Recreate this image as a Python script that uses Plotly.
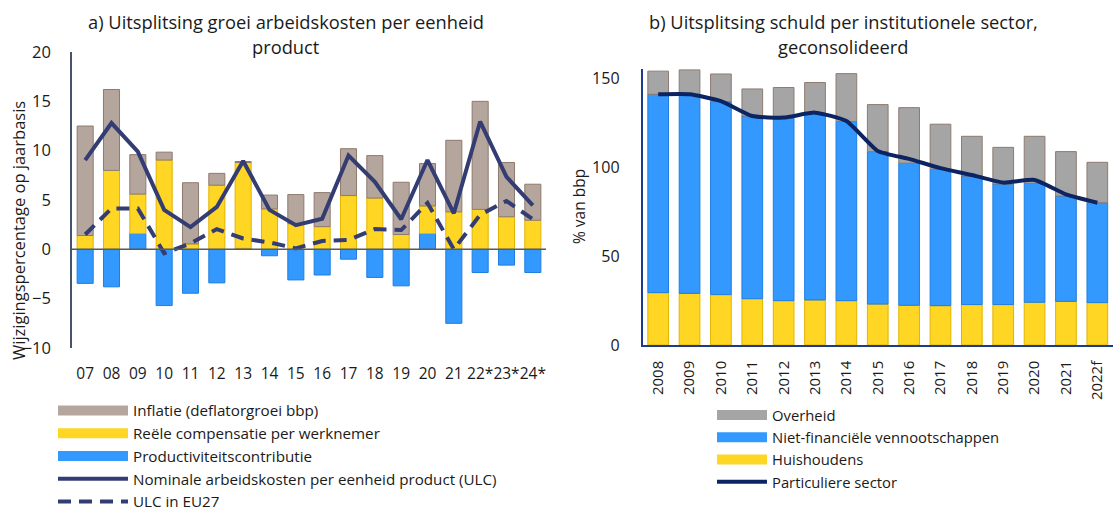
import plotly.graph_objects as go

# ---------- data: chart a ----------
cats_a = ['07', '08', '09', '10', '11', '12', '13', '14', '15', '16', '17', '18',
          '19', '20', '21', '22*', '23*', '24*']
inflatie = [11.1, 8.2, 4.0, 0.8, 6.2, 1.2, 0.1, 1.4, 2.95, 3.45, 4.75, 4.3, 5.3, 4.3, 7.25, 10.95, 5.5, 3.65]
reele = [1.4, 8.0, 4.0, 9.05, 0.55, 6.5, 8.7, 4.1, 2.6, 2.3, 5.45, 5.2, 1.5, 2.8, 3.8, 4.05, 3.3, 2.95]
productiviteit = [-3.45, -3.8, 1.6, -5.7, -4.45, -3.4, 0.1, -0.65, -3.1, -2.6, -1.0, -2.85, -3.7, 1.6,
                  -7.5, -2.35, -1.6, -2.35]
ulc = [9.05, 12.8, 9.9, 4.0, 2.25, 4.3, 8.95, 4.0, 2.45, 3.1, 9.5, 6.85, 3.05, 9.05, 3.65, 12.95, 7.35, 4.45]
ulc_eu27 = [1.5, 4.15, 4.15, -0.4, 0.6, 2.05, 1.1, 0.7, 0.1, 0.85, 0.95, 2.05, 1.95, 4.7, 0.0, 3.5, 4.9, 3.05]

# ---------- data: chart b ----------
cats_b = ['2008', '2009', '2010', '2011', '2012', '2013', '2014', '2015', '2016', '2017', '2018',
          '2019', '2020', '2021', '2022f']
huishoudens = [29.4, 29.0, 28.3, 26.0, 24.9, 25.3, 24.9, 23.0, 22.3, 22.1, 22.7, 22.7, 24.0, 24.5, 23.8]
nfc = [111.4, 111.8, 108.4, 102.6, 102.8, 105.2, 100.6, 85.6, 79.8, 76.6, 72.2, 67.7, 66.8, 59.2, 56.1]
overheid = [13.0, 13.7, 15.5, 15.2, 16.9, 16.9, 26.9, 26.4, 31.2, 25.3, 22.3, 20.6, 26.4, 24.9, 22.7]
particulier = [140.8, 140.8, 137.0, 128.6, 127.7, 130.5, 125.8, 109.0, 104.5, 99.3, 95.5, 91.2, 92.7, 84.6, 79.9]

W, H = 1113, 513
FONT = 'Open Sans'
GRAY_A, GRAY_A_LINE = '#B5A69D', '#8F7A6E'
YELLOW, YELLOW_LINE = '#FFD624', '#E2B400'
BLUE, BLUE_LINE = '#3399FF', '#1E7EE0'
NAVY_A = '#333D73'
GRAY_B, GRAY_B_LINE = '#A5A5A5', '#8F7A6E'
NAVY_B = '#0C2461'

fig = go.Figure()

# chart a bars (stack order: blue, yellow, gray)
fig.add_trace(go.Bar(x=cats_a, y=productiviteit, marker=dict(color=BLUE, line=dict(color=BLUE_LINE, width=1)),
                     width=0.61, showlegend=False, xaxis='x', yaxis='y'))
fig.add_trace(go.Bar(x=cats_a, y=reele, marker=dict(color=YELLOW, line=dict(color=YELLOW_LINE, width=1)),
                     width=0.61, showlegend=False, xaxis='x', yaxis='y'))
fig.add_trace(go.Bar(x=cats_a, y=inflatie, marker=dict(color=GRAY_A, line=dict(color=GRAY_A_LINE, width=1)),
                     width=0.61, showlegend=False, xaxis='x', yaxis='y'))
fig.add_trace(go.Scatter(x=cats_a, y=ulc, mode='lines', line=dict(color=NAVY_A, width=4),
                         name='Nominale arbeidskosten per eenheid product (ULC)', legend='legend', legendrank=4,
                         xaxis='x', yaxis='y'))
fig.add_trace(go.Scatter(x=cats_a, y=ulc_eu27, mode='lines', line=dict(color=NAVY_A, width=4, dash='13px,8px'),
                         name='ULC in EU27', legend='legend', legendrank=5, xaxis='x', yaxis='y'))
# legend swatches for the bar series of chart a
for nm, col, rk in [('Inflatie (deflatorgroei bbp)', GRAY_A, 1), ('Reële compensatie per werknemer', YELLOW, 2),
                    ('Productiviteitscontributie', BLUE, 3)]:
    fig.add_trace(go.Scatter(x=[None], y=[None], mode='lines', line=dict(color=col, width=10), name=nm,
                             legend='legend', legendrank=rk, xaxis='x', yaxis='y'))

# chart b bars
fig.add_trace(go.Bar(x=cats_b, y=huishoudens, marker=dict(color=YELLOW, line=dict(color=YELLOW_LINE, width=1)),
                     width=0.66, showlegend=False, xaxis='x2', yaxis='y2'))
fig.add_trace(go.Bar(x=cats_b, y=nfc, marker=dict(color=BLUE, line=dict(color=BLUE_LINE, width=1)),
                     width=0.66, showlegend=False, xaxis='x2', yaxis='y2'))
fig.add_trace(go.Bar(x=cats_b, y=overheid, marker=dict(color=GRAY_B, line=dict(color=GRAY_B_LINE, width=1)),
                     width=0.66, showlegend=False, xaxis='x2', yaxis='y2'))
fig.add_trace(go.Scatter(x=cats_b, y=particulier, mode='lines', line=dict(color=NAVY_B, width=4, shape='spline', smoothing=0.5),
                         name='Particuliere sector', legend='legend2', legendrank=4, xaxis='x2', yaxis='y2'))
for nm, col, rk in [('Overheid', GRAY_B, 1), ('Niet-financiële vennootschappen', BLUE, 2), ('Huishoudens', YELLOW, 3)]:
    fig.add_trace(go.Scatter(x=[None], y=[None], mode='lines', line=dict(color=col, width=10), name=nm,
                             legend='legend2', legendrank=rk, xaxis='x2', yaxis='y2'))


def px_x(p):
    return min(p / W, 1.0)


def px_y(p):
    return 1 - p / H


def note(text, x, y, size, angle=0):
    return dict(text=text, x=px_x(x), y=px_y(y), xref='paper', yref='paper', showarrow=False,
                font=dict(size=size), xanchor='center', yanchor='middle', textangle=angle)


fig.update_layout(
    width=W, height=H, margin=dict(l=0, r=0, t=0, b=0, autoexpand=False),
    paper_bgcolor='white', plot_bgcolor='white',
    barmode='relative', bargap=0.39,
    font=dict(family=FONT, size=16, color='#1a1a1a'),
    xaxis=dict(domain=[px_x(72), px_x(546)], type='category', range=[-0.5, 17.5], showline=False,
               showgrid=False, zeroline=False, ticks='', tickangle=0, automargin=False,
               ticklabelstandoff=14, tickfont=dict(size=15.5)),
    yaxis=dict(domain=[px_y(348), px_y(52)], range=[-10, 20], tickvals=[-10, -5, 0, 5, 10, 15, 20],
               showgrid=False, zeroline=False, showline=True, linecolor='#44546A', linewidth=1.5,
               ticks='', ticklabelstandoff=16, tickfont=dict(size=16.5), automargin=False),
    xaxis2=dict(domain=[px_x(642.5), 1.0], type='category', range=[-0.5, 14.5], showline=True,
                linecolor='#1F3A8A', linewidth=1.5, showgrid=False, zeroline=False, ticks='',
                tickangle=-90, ticklabelstandoff=8, tickfont=dict(size=15), anchor='y2', automargin=False),
    yaxis2=dict(domain=[px_y(345), px_y(69)], range=[0, 155], tickvals=[0, 50, 100, 150],
                showgrid=False, zeroline=False, showline=True, linecolor='#1F3A8A', linewidth=1.5,
                ticks='', ticklabelstandoff=18, tickfont=dict(size=16), anchor='x2', automargin=False),
    legend=dict(x=px_x(53), y=px_y(394), xanchor='left', yanchor='top', bgcolor='rgba(0,0,0,0)',
                font=dict(size=15.2), itemwidth=70, traceorder='normal'),
    legend2=dict(x=px_x(712), y=px_y(399), xanchor='left', yanchor='top', bgcolor='rgba(0,0,0,0)',
                 font=dict(size=14.8), itemwidth=50, traceorder='normal'),
    shapes=[dict(type='line', xref='x domain', yref='y', x0=0, x1=1, y0=0, y1=0,
                 line=dict(color='#595959', width=1.5), layer='above')],
    annotations=[
        note('a) Uitsplitsing groei arbeidskosten per eenheid', 286, 21, 18.3),
        note('product', 286, 47, 18.3),
        note('b) Uitsplitsing schuld per institutionele sector,', 843, 21, 18.3),
        note('geconsolideerd', 843, 47, 18.3),
        note('Wijzigingspercentage op jaarbasis', 19, 231, 16.5, -90),
        note('% van bbp', 579, 207, 15.5, -90),
    ],
)

fig.write_html('out.html', config={'displayModeBar': False},
               post_script="document.body.style.margin='0';document.body.style.padding='0';")
